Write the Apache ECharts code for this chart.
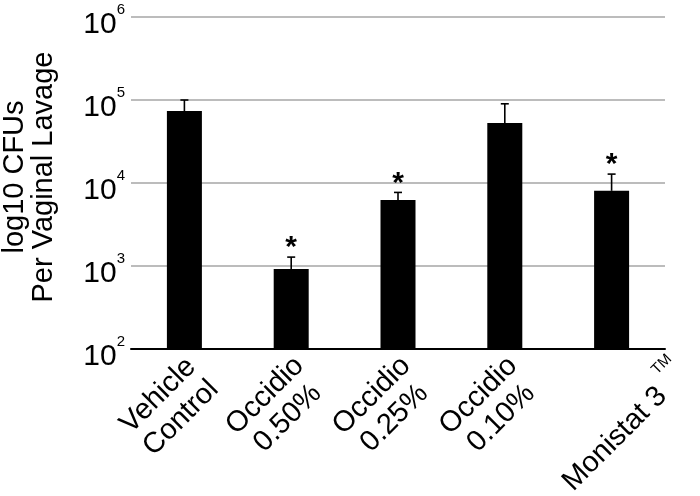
<!DOCTYPE html>
<html>
<head>
<meta charset="utf-8">
<script src="https://cdn.jsdelivr.net/npm/echarts@6/dist/echarts.min.js"></script>
<style>html,body{margin:0;padding:0;background:#fff}#c{width:700px;height:496px}</style>
</head>
<body>
<div id="c"></div>
<script>
// Data (CFUs per vaginal lavage)
const categories = ['Vehicle\nControl', 'Occidio\n0.50%', 'Occidio\n0.25%', 'Occidio\n0.10%', 'Monistat 3™'];
const meanCFU = [73600, 920, 6250, 53000, 8050];
const upperCFU = [100000, 1280, 7700, 90000, 12800];
const significant = [false, true, true, false, true];
const yExponents = [2, 3, 4, 5, 6];

const FONT = 'Liberation Sans, Arial, sans-serif';
const meanLog = meanCFU.map(v => Math.log10(v));
const errData = meanCFU.map((m, i) => [i, Math.log10(m), Math.log10(upperCFU[i]), significant[i] ? 1 : 0]);

const chart = echarts.init(document.getElementById('c'), null, {renderer: 'canvas'});
chart.setOption({
  animation: false,
  backgroundColor: '#fff',
  grid: {left: 131, right: 35, top: 17, bottom: 147, containLabel: false, outerBoundsMode: 'none'},
  xAxis: {
    type: 'category',
    data: categories,
    axisLine: {lineStyle: {color: '#000', width: 2}},
    axisTick: {show: false},
    axisLabel: {
      interval: 0,
      rotate: 45,
      align: 'center',
      verticalAlign: 'middle',
      margin: 43,
      padding: [0, 42, 0, 0],
      fontFamily: FONT,
      fontSize: 29,
      lineHeight: 32,
      color: '#000',
      formatter: function (v) {
        if (v.indexOf('™') >= 0) {
          return '{m|' + v.replace('™', ' ') + '}{sup|TM}';
        }
        return v;
      },
      rich: {
        m: {fontFamily: FONT, fontSize: 29, lineHeight: 32, padding: [71, 0, 0, 10], color: '#000'},
        sup: {fontFamily: FONT, fontSize: 15, lineHeight: 15, padding: [60, 0, 28, 0], color: '#000'}
      }
    }
  },
  yAxis: {
    type: 'value',
    min: 2,
    max: 6,
    interval: 1,
    name: 'log10 CFUs\nPer Vaginal Lavage',
    nameLocation: 'middle',
    nameRotate: 90,
    nameGap: 73,
    nameTextStyle: {fontFamily: FONT, fontSize: 29, lineHeight: 29, color: '#000', align: 'center', padding: [0, 0, 0, 12]},
    axisLine: {show: false},
    axisTick: {show: false},
    splitLine: {lineStyle: {color: '#a6a6a6', width: 1.5}},
    axisLabel: {
      margin: 6,
      color: '#000',
      formatter: function (v) {
        const e = Math.round(v);
        return yExponents.indexOf(e) >= 0 ? '{b|10}{s|' + e + '}' : '';
      },
      rich: {
        b: {fontFamily: FONT, fontSize: 30, lineHeight: 30, padding: [15, 0, 0, 0], color: '#000'},
        s: {fontFamily: FONT, fontSize: 15, lineHeight: 15, padding: [8, 0, 22, 0], color: '#000'}
      }
    }
  },
  series: [
    {
      type: 'bar',
      data: meanLog,
      barWidth: 35,
      itemStyle: {color: '#000'},
      z: 2
    },
    {
      type: 'custom',
      data: errData,
      z: 3,
      renderItem: function (params, api) {
        const i = api.value(0);
        const p0 = api.coord([i, api.value(1)]);
        const p1 = api.coord([i, api.value(2)]);
        const cap = 4;
        const children = [
          {type: 'line', shape: {x1: p0[0], y1: p0[1], x2: p1[0], y2: p1[1]}, style: {stroke: '#000', lineWidth: 1.6}},
          {type: 'line', shape: {x1: p1[0] - cap, y1: p1[1], x2: p1[0] + cap, y2: p1[1]}, style: {stroke: '#000', lineWidth: 1.6}}
        ];
        if (api.value(3) === 1) {
          children.push({
            type: 'text',
            style: {text: '*', x: p1[0], y: p1[1] + 6, align: 'center', verticalAlign: 'bottom', font: 'bold 30px ' + FONT, fill: '#000'}
          });
        }
        return {type: 'group', children: children};
      }
    }
  ]
});
</script>
</body>
</html>
